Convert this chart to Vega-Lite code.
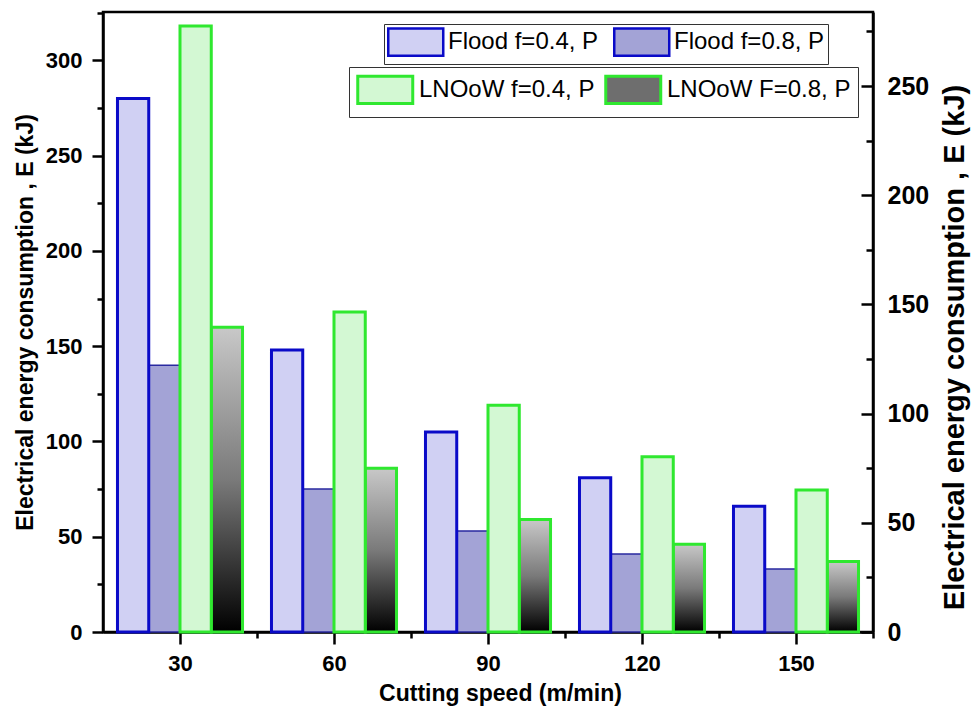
{
  "$schema": "https://vega.github.io/schema/vega-lite/v6.json",
  "width": 770,
  "height": 620,
  "autosize": {"type": "none"},
  "padding": {"left": 103, "top": 12, "right": 103, "bottom": 76},
  "background": "white",
  "config": {
    "font": "Liberation Sans",
    "view": {"stroke": "black", "strokeWidth": 2.5},
    "axis": {"grid": false, "domainColor": "black", "domainWidth": 2.5, "tickColor": "black", "tickWidth": 2.5, "labelColor": "black", "titleColor": "black", "labelFont": "Liberation Sans", "titleFont": "Liberation Sans"},
    "legend": {"labelFont": "Liberation Sans", "labelColor": "black"}
  },
  "data": {
    "values": [
      {"speed": 30, "series": "Flood f=0.8, P", "E": 140},
      {"speed": 60, "series": "Flood f=0.8, P", "E": 75},
      {"speed": 90, "series": "Flood f=0.8, P", "E": 53},
      {"speed": 120, "series": "Flood f=0.8, P", "E": 41},
      {"speed": 150, "series": "Flood f=0.8, P", "E": 33},
      {"speed": 30, "series": "Flood f=0.4, P", "E": 280},
      {"speed": 60, "series": "Flood f=0.4, P", "E": 148},
      {"speed": 90, "series": "Flood f=0.4, P", "E": 105},
      {"speed": 120, "series": "Flood f=0.4, P", "E": 81},
      {"speed": 150, "series": "Flood f=0.4, P", "E": 66},
      {"speed": 30, "series": "LNOoW F=0.8, P", "E": 160},
      {"speed": 60, "series": "LNOoW F=0.8, P", "E": 86},
      {"speed": 90, "series": "LNOoW F=0.8, P", "E": 59},
      {"speed": 120, "series": "LNOoW F=0.8, P", "E": 46},
      {"speed": 150, "series": "LNOoW F=0.8, P", "E": 37},
      {"speed": 30, "series": "LNOoW f=0.4, P", "E": 318},
      {"speed": 60, "series": "LNOoW f=0.4, P", "E": 168},
      {"speed": 90, "series": "LNOoW f=0.4, P", "E": 119},
      {"speed": 120, "series": "LNOoW f=0.4, P", "E": 92},
      {"speed": 150, "series": "LNOoW f=0.4, P", "E": 74.5}
    ]
  },
  "layer": [
    {
      "transform": [{"filter": "indexof(datum.series, 'Flood') === 0"}],
      "mark": {"type": "bar", "strokeWidth": 3},
      "encoding": {
        "x": {"field": "speed", "type": "ordinal", "scale": {"paddingInner": 0.188, "paddingOuter": 0.094}, "axis": null},
        "xOffset": {"field": "series", "type": "nominal", "scale": {"domain": ["Flood f=0.4, P", "Flood f=0.8, P", "LNOoW f=0.4, P", "LNOoW F=0.8, P"], "paddingInner": 0, "paddingOuter": 0}},
        "y": {"field": "E", "type": "quantitative", "scale": {"domain": [0, 325.4], "nice": false},
          "axis": {"orient": "left", "values": [0, 50, 100, 150, 200, 250, 300], "tickSize": 11, "labelPadding": 10, "labelFontSize": 22, "labelFontWeight": "bold",
            "title": "Electrical energy consumption , E (kJ)", "titleFontSize": 23, "titleFontWeight": "bold", "titleAngle": 270, "titleX": -78, "titleY": 310, "titleAlign": "center", "titleBaseline": "middle"}},
        "fill": {"field": "series", "type": "nominal",
          "scale": {"domain": ["Flood f=0.4, P", "Flood f=0.8, P"], "range": ["#d0d0f3", "#a3a3d6"]},
          "legend": {"orient": "none", "legendX": 281, "legendY": 12, "direction": "horizontal", "columns": 2, "title": null, "padding": 3,
            "strokeColor": "#333333", "fillColor": "white",
            "symbolType": "M-1,-1H3V1H-1Z", "symbolSize": 756, "symbolStrokeColor": "#0a0ac8", "symbolStrokeWidth": 2.5, "symbolOpacity": 1,
            "labelFontSize": 24, "labelOffset": 31, "columnPadding": 10, "labelLimit": 400}},
        "stroke": {"condition": {"test": "datum.series === 'Flood f=0.8, P'", "value": "#2a2aa0"}, "value": "#0a0ac8"},
        "strokeWidth": {"condition": {"test": "datum.series === 'Flood f=0.8, P'", "value": 1.5}, "value": 3}
      }
    },
    {
      "transform": [{"filter": "indexof(datum.series, 'LNOoW') === 0"}],
      "mark": {"type": "bar", "strokeWidth": 3, "stroke": "#2fe82f"},
      "encoding": {
        "x": {"field": "speed", "type": "ordinal", "scale": {"paddingInner": 0.188, "paddingOuter": 0.094}, "axis": null},
        "xOffset": {"field": "series", "type": "nominal", "scale": {"domain": ["Flood f=0.4, P", "Flood f=0.8, P", "LNOoW f=0.4, P", "LNOoW F=0.8, P"], "paddingInner": 0, "paddingOuter": 0}},
        "y": {"field": "E", "type": "quantitative", "scale": {"domain": [0, 325.4], "nice": false}, "axis": null},
        "fill": {"field": "series", "type": "nominal",
          "condition": {"test": "datum.series === 'LNOoW F=0.8, P'", "value": {"gradient": "linear", "x1": 0, "y1": 0, "x2": 0, "y2": 1, "stops": [{"offset": 0, "color": "#c8c8c8"}, {"offset": 0.5, "color": "#7a7a7a"}, {"offset": 1, "color": "#000000"}]}},
          "scale": {"domain": ["LNOoW f=0.4, P", "LNOoW F=0.8, P"], "range": ["#d3f8d3", "#6e6e6e"]},
          "legend": {"orient": "none", "legendX": 246, "legendY": 55, "direction": "horizontal", "columns": 2, "title": null, "padding": 7,
            "strokeColor": "#333333", "fillColor": "white",
            "symbolType": "M-1,-1H3V1H-1Z", "symbolSize": 756, "symbolStrokeColor": "#2fe82f", "symbolStrokeWidth": 3, "symbolOpacity": 1,
            "labelFontSize": 24, "labelOffset": 32, "columnPadding": 4, "labelLimit": 400}}
      }
    },
    {
      "mark": {"type": "point", "opacity": 0},
      "encoding": {
        "x": {"field": "speed", "type": "quantitative", "scale": {"domain": [15, 165], "nice": false, "zero": false},
          "axis": {"orient": "bottom", "values": [30, 60, 90, 120, 150], "tickSize": 12, "labelPadding": 9, "labelFontSize": 22, "labelFontWeight": "bold", "labelFlush": false,
            "title": "Cutting speed (m/min)", "titleFontSize": 23, "titleFontWeight": "bold", "titleX": 397, "titleY": 61, "titleAlign": "center", "titleBaseline": "middle"}}
      }
    },
    {
      "mark": {"type": "point", "opacity": 0},
      "encoding": {
        "x": {"field": "speed", "type": "quantitative", "scale": {"domain": [15, 165], "nice": false, "zero": false},
          "axis": {"orient": "bottom", "values": [45, 75, 105, 135, 165], "tickSize": 6, "labels": false, "domain": false, "title": null}}
      }
    },
    {
      "mark": {"type": "point", "opacity": 0},
      "encoding": {
        "y": {"field": "E", "type": "quantitative", "scale": {"domain": [0, 325.4], "nice": false},
          "axis": {"orient": "left", "values": [25, 75, 125, 175, 225, 275, 325], "tickSize": 6, "labels": false, "domain": false, "title": null}}
      }
    },
    {
      "mark": {"type": "point", "opacity": 0},
      "encoding": {
        "y": {"field": "E", "type": "quantitative", "scale": {"domain": [0, 283.9], "nice": false},
          "axis": {"orient": "right", "values": [0, 50, 100, 150, 200, 250], "tickSize": -12, "labelPadding": 26, "labelFontSize": 25, "labelFontWeight": "bold", "labelAlign": "left",
            "title": "Electrical energy consumption , E (kJ)", "titleFontSize": 29, "titleFontWeight": "bold", "titleAngle": 270, "titleX": 81, "titleY": 335, "titleAlign": "center", "titleBaseline": "middle"}}
      }
    },
    {
      "mark": {"type": "point", "opacity": 0},
      "encoding": {
        "y": {"field": "E", "type": "quantitative", "scale": {"domain": [0, 283.9], "nice": false},
          "axis": {"orient": "right", "values": [25, 75, 125, 175, 225, 275], "tickSize": -7, "labels": false, "domain": false, "title": null}}
      }
    }
  ],
  "resolve": {
    "scale": {"fill": "independent", "y": "independent", "x": "independent"},
    "axis": {"x": "independent", "y": "independent"},
    "legend": {"fill": "independent"}
  }
}
